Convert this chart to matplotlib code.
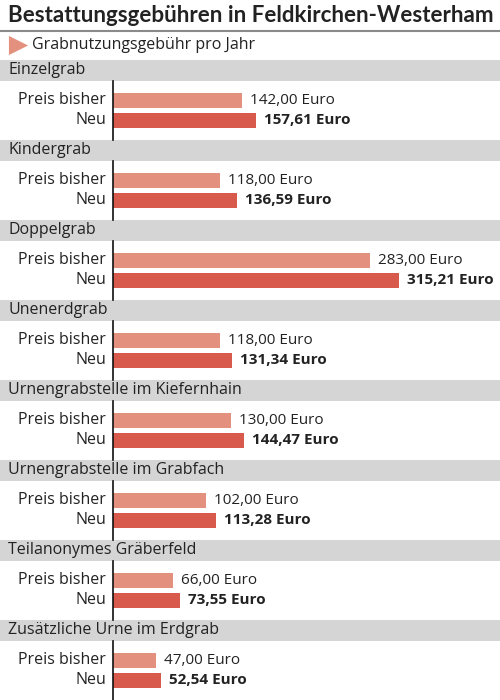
import matplotlib
matplotlib.use('Agg')
import matplotlib.pyplot as plt

plt.rcParams['font.family'] = ['Open Sans', 'DejaVu Sans']

# 데이터
gruppen = ['Einzelgrab', 'Kindergrab', 'Doppelgrab', 'Unenerdgrab',
           'Urnengrabstelle im Kiefernhain', 'Urnengrabstelle im Grabfach',
           'Teilanonymes Gräberfeld', 'Zusätzliche Urne im Erdgrab']
preis_bisher = [142.00, 118.00, 283.00, 118.00, 130.00, 102.00, 66.00, 47.00]
preis_neu = [157.61, 136.59, 315.21, 131.34, 144.47, 113.28, 73.55, 52.54]

titel = 'Bestattungsgebühren in Feldkirchen-Westerham'
untertitel = 'Grabnutzungsgebühr pro Jahr'

hell = '#E3907F'
dunkel = '#D75A4C'
grau = '#D5D5D5'
text_farbe = '#222222'

def euro(v):
    return f'{v:.2f}'.replace('.', ',') + ' Euro'

fig = plt.figure(figsize=(5, 7), dpi=100)
ax = fig.add_axes([0, 0, 1, 1])
px = 0.907  # Pixel pro Euro
x0 = -113 / px
ax.set_xlim(x0, (500 - 113) / px)
ax.set_ylim(700, 0)
ax.axis('off')

# Titel
ax.text(x0 + 8 / px, 16, titel, fontsize=16.1, fontweight='bold',
        family=['Lato', 'DejaVu Sans'], color=text_farbe, va='center', ha='left')
ax.plot([x0, 387 / px], [31, 31], color='#8a8a8a', lw=1.5)
ax.scatter([x0 + 18 / px], [45], marker='>', s=190, color=hell, lw=0)
ax.text(x0 + 32 / px, 45, untertitel, fontsize=11.5, color=text_farbe,
        va='center', ha='left')

for i, name in enumerate(gruppen):
    y0 = 60 + 80 * i
    ax.axhspan(y0, y0 + 21, color=grau, lw=0)
    ax.text(x0 + 8 / px, y0 + 10.5, name, fontsize=11.5,
            color=text_farbe, va='center', ha='left')
    yb = y0 + 40
    yn = y0 + 60
    ax.barh(yb, preis_bisher[i], height=15, left=0, color=hell, lw=0)
    ax.barh(yn, preis_neu[i], height=15, left=0, color=dunkel, lw=0)
    ax.plot([0, 0], [y0 + 21, y0 + 80], color='#111111', lw=1.2)
    ax.text(-7 / px, yb, 'Preis bisher', fontsize=11.5, color=text_farbe,
            va='center', ha='right')
    ax.text(-7 / px, yn, 'Neu', fontsize=11.5, color=text_farbe,
            va='center', ha='right')
    ax.text(preis_bisher[i] + 8 / px, yb, euro(preis_bisher[i]), fontsize=11,
            color=text_farbe, va='center', ha='left')
    ax.text(preis_neu[i] + 8 / px, yn, euro(preis_neu[i]), fontsize=11,
            fontweight='bold', color=text_farbe, va='center', ha='left')

fig.savefig('out.png', dpi=100)
